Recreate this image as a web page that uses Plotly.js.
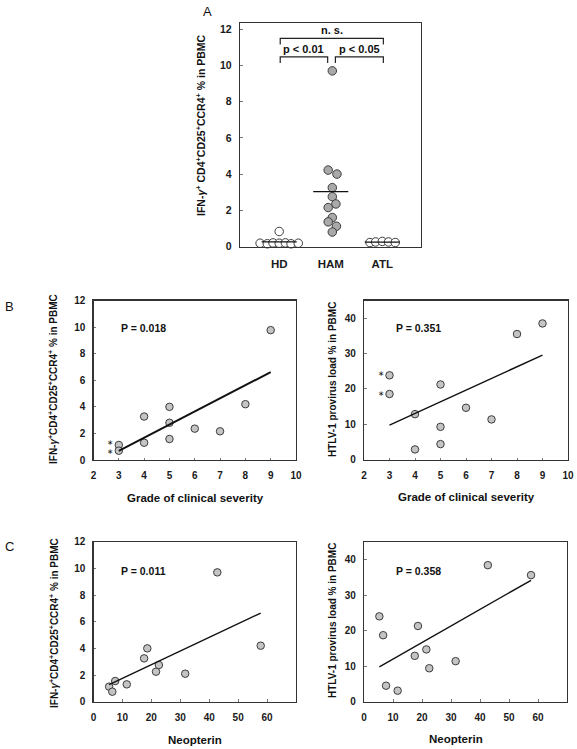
<!DOCTYPE html>
<html><head><meta charset="utf-8">
<script src="https://cdn.plot.ly/plotly-3.0.1.min.js"></script>
<style>html,body{margin:0;padding:0;background:#fff}</style>
</head><body><div id="chart" style="width:577px;height:749px"></div>
<script>
// ---------- DATA ----------
// Panel A: IFN-g+ CD4+CD25+CCR4+ % by group
const groupNames = ['HD', 'HAM', 'ATL'];
const hdValues  = [0.18, 0.15, 0.20, 0.18, 0.83, 0.20, 0.15, 0.18];
const hdJitter  = [-0.37, -0.23, -0.12, 0, 0, 0.12, 0.23, 0.37];
const hamValues = [9.7, 4.22, 4.0, 3.25, 2.75, 2.35, 2.15, 1.6, 1.36, 1.12, 0.8];
const hamJitter = [0.03, -0.05, 0.12, 0.03, 0.03, 0.10, -0.05, 0.03, -0.05, 0.11, 0.03];
const atlValues = [0.22, 0.25, 0.28, 0.25, 0.22];
const atlJitter = [-0.24, -0.13, 0, 0.12, 0.25];
const compFrom  = [1, 2, 1];
const compTo    = [2, 3, 3];
const compLabel = ['p < 0.01', 'p < 0.05', 'n. s.'];
const compLevel = [10.47, 10.47, 11.49];
const ticksA = [0, 2, 4, 6, 8, 10, 12];

// Panel B: vs grade of clinical severity
const severityGrade = [3, 3, 4, 4, 5, 5, 5, 6, 7, 8, 9];
const ifnBySeverity = [1.13, 0.70, 3.27, 1.30, 4.0, 2.8, 1.58, 2.36, 2.16, 4.2, 9.77];
const severityGrade2 = [3, 3, 4, 4, 5, 5, 5, 6, 7, 8, 9];
const pvlBySeverity = [23.8, 18.5, 12.8, 2.8, 21.2, 9.2, 4.3, 14.6, 11.3, 35.5, 38.5];
const starredGradeIfn = [3, 3];
const starredIfn = [1.13, 0.70];
const starredGradePvl = [3, 3];
const starredPvl = [23.8, 18.5];
const gradeTicks = [2, 3, 4, 5, 6, 7, 8, 9, 10];
const ifnTicks = [0, 2, 4, 6, 8, 10, 12];
const pvlTicks = [0, 10, 20, 30, 40];
const pB1 = 'P = 0.018', pB2 = 'P = 0.351';

// Panel C: vs neopterin
const neopterin1 = [5.4, 6.5, 7.5, 11.5, 17.5, 18.6, 21.6, 22.6, 31.7, 42.8, 57.8];
const ifnByNeo   = [1.13, 0.75, 1.55, 1.3, 3.25, 4.0, 2.25, 2.75, 2.1, 9.7, 4.2];
const neopterin2 = [5.3, 6.6, 7.6, 11.6, 17.5, 18.6, 21.5, 22.5, 31.6, 42.7, 57.6];
const pvlByNeo   = [24.0, 18.7, 4.5, 3.1, 12.9, 21.3, 14.7, 9.4, 11.4, 38.4, 35.6];
const neoTicks = [0, 10, 20, 30, 40, 50, 60];
const pC1 = 'P = 0.011', pC2 = 'P = 0.358';

// ---------- helpers ----------
const W = 577, H = 749;
const px = x => x / W;
const py = y => 1 - y / H;
const FONT = 'Liberation Sans, Arial, sans-serif';
const mean = a => a.reduce((s, v) => s + v, 0) / a.length;
const bold = arr => arr.map(v => '<b>' + v + '</b>');
function fit(x, y) {
  const mx = mean(x), my = mean(y);
  let sxy = 0, sxx = 0;
  x.forEach((v, i) => { sxy += (v - mx) * (y[i] - my); sxx += (v - mx) ** 2; });
  const b = sxy / sxx, a = my - b * mx;
  const x0 = Math.min(...x), x1 = Math.max(...x);
  return { x: [x0, x1], y: [a + b * x0, a + b * x1] };
}
const grayMarker = { size: 7.5, color: '#c4c4c4', line: { color: '#3c3c3c', width: 1 } };

const traces = [];
// Panel A
function groupTrace(vals, jit, pos, fill) {
  return { type: 'scatter', mode: 'markers', xaxis: 'x', yaxis: 'y', cliponaxis: false,
    x: vals.map((v, i) => pos + jit[i]), y: vals,
    marker: { size: 8.5, color: fill, line: { color: '#3c3c3c', width: 1 } }, hoverinfo: 'y' };
}
function meanTrace(vals, pos) {
  const m = mean(vals);
  return { type: 'scatter', mode: 'lines', xaxis: 'x', yaxis: 'y', cliponaxis: false,
    x: [pos - 0.34, pos + 0.34], y: [m, m], line: { color: '#111', width: 1.3 }, hoverinfo: 'skip' };
}
traces.push(groupTrace(hdValues, hdJitter, 1, '#ffffff'));
traces.push(groupTrace(hamValues, hamJitter, 2, '#a9a9a9'));
traces.push(groupTrace(atlValues, atlJitter, 3, '#ffffff'));
traces.push(meanTrace(hdValues, 1));
traces.push(meanTrace(hamValues, 2));
traces.push(meanTrace(atlValues, 3));

// scatter panels
function panel(x, y, xa, ya, lw) {
  traces.push({ type: 'scatter', mode: 'markers', x, y, xaxis: xa, yaxis: ya, marker: grayMarker, cliponaxis: false });
  const f = fit(x, y);
  traces.push({ type: 'scatter', mode: 'lines', x: f.x, y: f.y, xaxis: xa, yaxis: ya, line: { color: '#111', width: lw }, hoverinfo: 'skip' });
}
panel(severityGrade, ifnBySeverity, 'x2', 'y2', 2);
panel(severityGrade2, pvlBySeverity, 'x3', 'y3', 1.4);
panel(neopterin1, ifnByNeo, 'x4', 'y4', 1.4);
panel(neopterin2, pvlByNeo, 'x5', 'y5', 1.4);

// ---------- axes ----------
const tickFont = { family: FONT, size: 10, color: '#1a1a1a', weight: 700 };
function ax(domain, range, tv, extra) {
  return Object.assign({ domain, range, tickvals: tv, ticktext: bold(tv), showline: true, mirror: true, linecolor: '#333', linewidth: 1.2,
    showgrid: false, zeroline: false, ticks: 'inside', ticklen: 2.5, tickcolor: '#777', tickwidth: 1,
    tickfont: tickFont, fixedrange: true }, extra || {});
}
const xB = [px(93.5), px(296)], xR = [px(364), px(568)];
const yBr = [py(460), py(300.5)], yCr = [py(701.7), py(541.7)];

const layout = {
  width: W, height: H, margin: { l: 0, r: 0, t: 0, b: 0 }, showlegend: false,
  paper_bgcolor: '#fff', plot_bgcolor: '#fff', font: { family: FONT },
  xaxis: ax([px(240), px(421)], [0.24, 3.75], [1, 2, 3], { ticktext: bold(groupNames), ticks: '',
    tickfont: { family: FONT, size: 11.5, color: '#1a1a1a', weight: 700 }, ticklabelstandoff: 6 }),
  yaxis: ax([py(246.5), py(22.7)], [0, 12.36], ticksA, { ticklabelstandoff: 5,
    tickfont: { family: FONT, size: 10.5, color: '#1a1a1a', weight: 700 } }),
  xaxis2: ax(xB, [2, 10], gradeTicks, { anchor: 'y2', ticklabelstandoff: 6 }),
  yaxis2: ax(yBr, [0, 12], ifnTicks, { anchor: 'x2', ticklabelstandoff: 5 }),
  xaxis3: ax(xR, [2, 10], gradeTicks, { anchor: 'y3', ticklabelstandoff: 6 }),
  yaxis3: ax(yBr, [-0.2, 45], pvlTicks, { anchor: 'x3', ticklabelstandoff: 5 }),
  xaxis4: ax(xB, [0, 70], neoTicks, { anchor: 'y4', ticklabelstandoff: 6 }),
  yaxis4: ax(yCr, [0, 12], ifnTicks, { anchor: 'x4', ticklabelstandoff: 5 }),
  xaxis5: ax([px(364), px(567)], [0, 70], neoTicks, { anchor: 'y5', ticklabelstandoff: 6 }),
  yaxis5: ax(yCr, [0, 45], pvlTicks, { anchor: 'x5', ticklabelstandoff: 5 }),
  shapes: [], annotations: []
};

// brackets in panel A
compFrom.forEach((f, i) => {
  const t = compTo[i];
  const x0 = f + (f === 2 ? 0.09 : 0.02);
  const x1 = t - (t === 2 ? 0.06 : -0.02);
  const lv = compLevel[i], leg = 0.34;
  layout.shapes.push({ type: 'path', xref: 'x', yref: 'y',
    path: `M ${x0} ${lv - leg} L ${x0} ${lv} L ${x1} ${lv} L ${x1} ${lv - leg}`,
    line: { color: '#222', width: 1.2 } });
  layout.annotations.push({ xref: 'x', yref: 'y', x: (x0 + x1) / 2, y: lv, yanchor: 'bottom', yshift: 0,
    text: '<b>' + compLabel[i] + '</b>', showarrow: false, font: { family: FONT, size: 11, color: '#111' } });
});

// asterisks (the upper of a stacked pair nudged up slightly so they do not collide)
function stars(xs, ys, xa, ya, spread) {
  xs.forEach((x, i) => layout.annotations.push({ xref: xa, yref: ya, x, y: ys[i], xshift: -8.5,
    yshift: i === 0 ? 1 + spread : 1 - spread, yanchor: 'middle',
    text: '∗', showarrow: false, font: { family: 'DejaVu Sans, sans-serif', size: 7.5, color: '#222' } }));
}
stars(starredGradeIfn, starredIfn, 'x2', 'y2', 1.8);
stars(starredGradePvl, starredPvl, 'x3', 'y3', 0.5);

// text annotations (paper)
function note(text, x, y, size, extra, plain) {
  layout.annotations.push(Object.assign({ xref: 'paper', yref: 'paper', x: px(x), y: py(y), xanchor: 'center', yanchor: 'middle',
    text: plain ? text : '<b>' + text + '</b>', showarrow: false, font: { family: FONT, size, color: '#111' } }, extra || {}));
}
const ifnTitleA = 'IFN-<i>γ</i><sup>+</sup> CD4<sup>+</sup>CD25<sup>+</sup>CCR4<sup>+</sup> % in PBMC';
const ifnTitle = 'IFN-<i>γ</i><sup>+</sup>CD4<sup>+</sup>CD25<sup>+</sup>CCR4<sup>+</sup> % in PBMC';
const pvlTitle = 'HTLV-1 provirus load % in PBMC';
note(ifnTitleA, 200, 125, 10.5, { textangle: -90 });
note(ifnTitle, 53, 379, 10, { textangle: -90 });
note(pvlTitle, 332, 380, 10, { textangle: -90 });
note(ifnTitle, 54, 623, 10, { textangle: -90 });
note(pvlTitle, 332, 621, 10, { textangle: -90 });
note('Grade of clinical severity', 195, 498, 11.5);
note('Grade of clinical severity', 466.5, 497, 11.5);
note('Neopterin', 195, 740, 11.5);
note('Neopterin', 456, 739, 11.5);
note(pB1, 143.3, 328.3, 10.5);
note(pB2, 418.3, 328.3, 10.5);
note(pC1, 143.3, 571, 10.5);
note(pC2, 418.3, 571, 10.5);
// panel letters
note('A', 207, 12, 13, null, true);
note('B', 9, 306, 13, null, true);
note('C', 9, 546, 13, null, true);

Plotly.newPlot('chart', traces, layout, { staticPlot: true, displayModeBar: false });
</script></body></html>
